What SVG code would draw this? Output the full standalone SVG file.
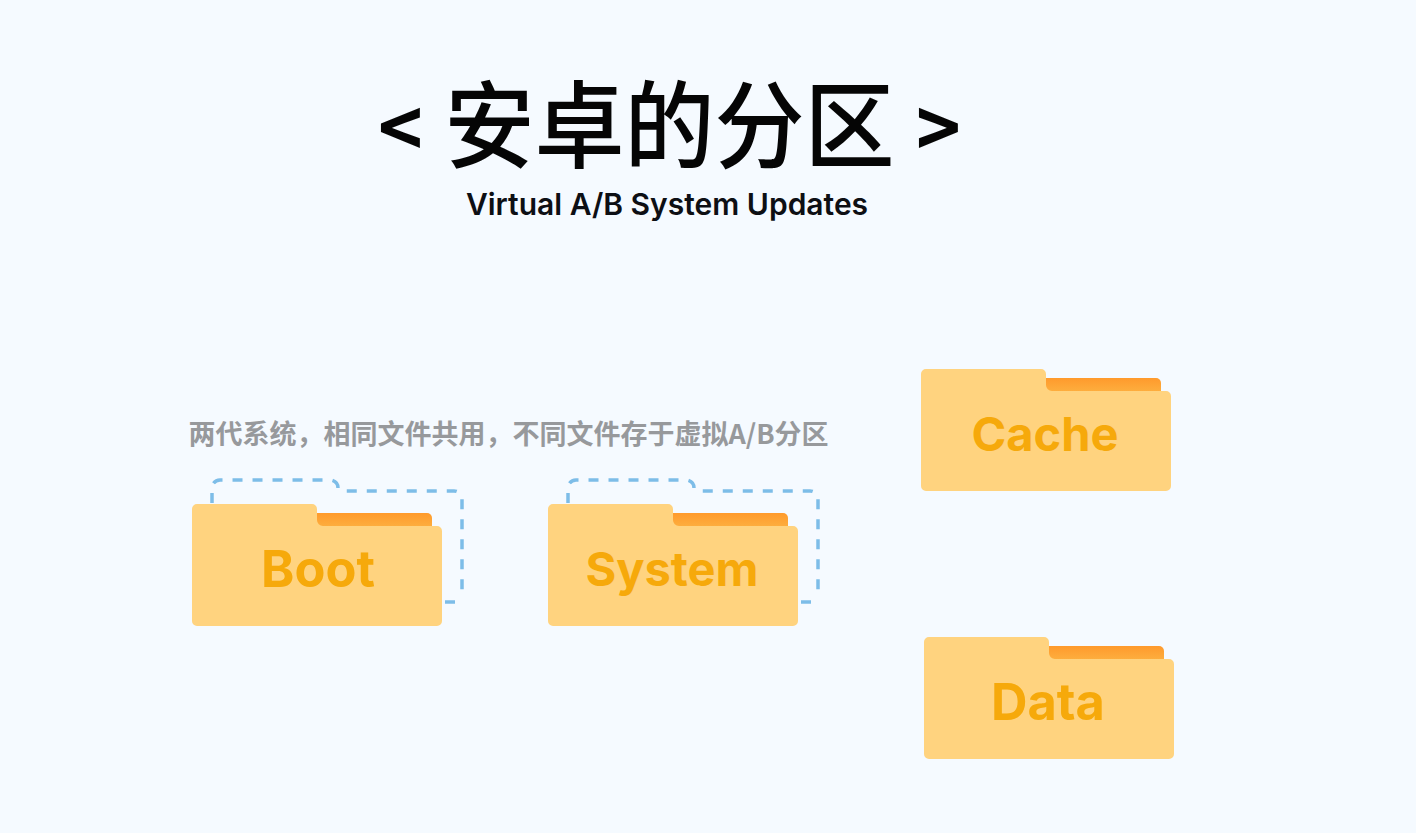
<svg xmlns="http://www.w3.org/2000/svg" width="1416" height="833" viewBox="0 0 1416 833">
<style>
.title{font-family:"Noto Sans CJK SC","Noto Sans",sans-serif;font-size:90px;font-weight:500;fill:#050505}
.br{font-size:76px;font-weight:700}
.sub{font-family:"Inter","Noto Sans",sans-serif;font-size:30px;font-weight:600;fill:#0d0f14;text-anchor:middle}
.note{font-family:"Noto Sans CJK SC","Noto Sans",sans-serif;font-size:27px;font-weight:700;fill:#97999c;text-anchor:middle}
.lbl{font-family:"Inter","Noto Sans",sans-serif;font-size:47px;font-weight:700;fill:#f6a90b;text-anchor:middle}
.big{font-size:50.500px}
.dash{fill:none;stroke:#7dbde8;stroke-width:3.500;stroke-dasharray:10 10}
.solid{fill:none;stroke:#7dbde8;stroke-width:3.500}
</style>
<defs>
<linearGradient id="tabg" x1="0" y1="0" x2="0" y2="1"><stop offset="0" stop-color="#ff9a2c"/><stop offset="1" stop-color="#fdb040"/></linearGradient>
<g id="folder">
<path d="M125 9H235a5 5 0 0 1 5 5V24H125Z" fill="url(#tabg)"/>
<path d="M5 0H120a5 5 0 0 1 5 5V16a6 6 0 0 0 6 6H245a5 5 0 0 1 5 5V117a5 5 0 0 1-5 5H5a5 5 0 0 1-5-5V5a5 5 0 0 1 5-5Z" fill="#ffd37f"/>
</g>
<path id="outline" class="dash" d="M0 24V9a8 8 0 0 1 8-8H118a8 8 0 0 1 8 8q0 3 6 3H242a8 8 0 0 1 8 8V118"/>
<path id="outend" class="solid" d="M233 123H243"/>
</defs>
<rect id="background" width="1416" height="833" fill="#f5faff"/>
<text class="title" transform="translate(0,0.500) scale(1,1.060)" y="151"><tspan class="br" x="378" dy="-2">&lt;</tspan> <tspan x="444.500" dy="2">安卓的分区</tspan> <tspan class="br" x="916" dy="-2">&gt;</tspan></text>
<text class="sub" x="667" y="215">Virtual A/B System Updates</text>
<text class="note" x="508.500" y="444">两代系统，相同文件共用，不同文件存于虚拟A/B分区</text>
<g id="connectors">
<use href="#outline" x="212" y="479"/><use href="#outend" x="212" y="479"/>
<use href="#outline" x="568" y="479"/><use href="#outend" x="568" y="479"/>
</g>
<g id="boot"><use href="#folder" x="192" y="504"/><text class="lbl big" x="318" y="587">Boot</text></g>
<g id="system"><use href="#folder" x="548" y="504"/><text class="lbl" x="672" y="586">System</text></g>
<g id="cache"><use href="#folder" x="921" y="369"/><text class="lbl" x="1045" y="451">Cache</text></g>
<g id="data"><use href="#folder" x="924" y="637"/><text class="lbl big" x="1048" y="720">Data</text></g>
</svg>
